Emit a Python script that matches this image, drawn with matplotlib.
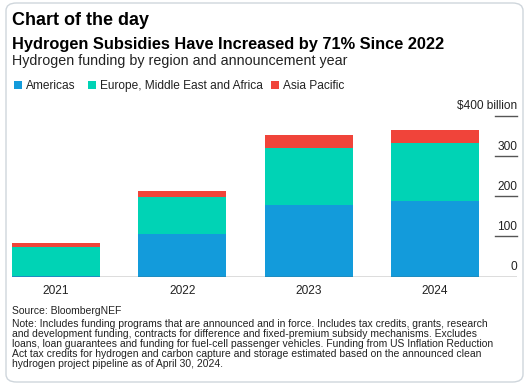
import matplotlib
matplotlib.use("Agg")
import matplotlib.pyplot as plt
from matplotlib.patches import FancyBboxPatch, Rectangle
import numpy as np

years = ["2021", "2022", "2023", "2024"]
americas = [1.5, 106, 179, 189]
emea = [73, 93, 141, 143]
apac = [9, 14, 33, 33]
series_names = ["Americas", "Europe, Middle East and Africa", "Asia Pacific"]
colors = ["#139BDB", "#00D3B5", "#F0443A"]
yticks = [0, 100, 200, 300, 400]
ytick_labels = ["0", "100", "200", "300", "$400 billion"]

W, H = 526, 385
plt.rcParams['font.family'] = ['Liberation Sans', 'DejaVu Sans']
fig = plt.figure(figsize=(W / 100, H / 100), dpi=100)

def fx(x):
    return x / W

def fy(y):
    return 1 - y / H

# card border
card = FancyBboxPatch((fx(6), fy(382)), fx(523) - fx(6), fy(3) - fy(382),
                      boxstyle="round,pad=0,rounding_size=0.02",
                      transform=fig.transFigure, facecolor="none",
                      edgecolor="#CFD6DC", linewidth=1.0, zorder=-1)
fig.patches.append(card)

fig.text(fx(12), fy(25), "Chart of the day", fontsize=13, fontweight="bold",
         va="baseline", ha="left")
fig.text(fx(12), fy(49.5), "Hydrogen Subsidies Have Increased by 71% Since 2022",
         fontsize=11.8, fontweight="bold", va="baseline", ha="left")
fig.text(fx(12), fy(64.5), "Hydrogen funding by region and announcement year",
         fontsize=10.3, va="baseline", ha="left", color="#222222")

# legend
leg_x = [14, 88, 271]
for name, col, lx in zip(series_names, colors, leg_x):
    fig.patches.append(Rectangle((fx(lx), fy(88.8)), fx(8), fy(81) - fy(88.8),
                                 transform=fig.transFigure, facecolor=col,
                                 edgecolor="none"))
    fig.text(fx(lx + 12), fy(89), name, fontsize=8.6, va="baseline", ha="left",
             color="#222222")

ax = fig.add_axes([fx(12), fy(276.7), fx(517) - fx(12), fy(115.7) - fy(276.7)])
x = np.arange(len(years))
bw = 0.697
a = np.array(americas)
e = np.array(emea)
p = np.array(apac)
ax.bar(x, a, bw, color=colors[0], zorder=2)
ax.bar(x, e, bw, bottom=a, color=colors[1], zorder=2)
ax.bar(x, p, bw, bottom=a + e, color=colors[2], zorder=2)
ax.set_xlim(-0.348, 3.65)
ax.set_ylim(0, 400)
ax.patch.set_visible(False)
for s in ax.spines.values():
    s.set_visible(False)
ax.axhline(0, color="#555555", lw=1.0, zorder=3)
ax.set_xticks(x)
ax.set_xticklabels(years, fontsize=8.6, color="#222222")
ax.tick_params(axis="x", length=0, pad=6)
ax.set_yticks([])
tr = matplotlib.transforms.blended_transform_factory(ax.transAxes, ax.transData)
for v, lab in zip(yticks, ytick_labels):
    if v > 0:
        ax.plot([1 - 22 / 505, 1], [v, v], transform=tr, color="#555555",
                lw=1.0, clip_on=False)
    ax.text(1, v + 8, lab, transform=tr, fontsize=8.6, ha="right", va="bottom",
            color="#222222")

fig.text(fx(12), fy(314), "Source: BloombergNEF", fontsize=7.5, va="baseline",
         ha="left", color="#222222")
note = [
    "Note: Includes funding programs that are announced and in force. Includes tax credits, grants, research",
    "and development funding, contracts for difference and fixed-premium subsidy mechanisms. Excludes",
    "loans, loan guarantees and funding for fuel-cell passenger vehicles. Funding from US Inflation Reduction",
    "Act tax credits for hydrogen and carbon capture and storage estimated based on the announced clean",
    "hydrogen project pipeline as of April 30, 2024.",
]
for i, line in enumerate(note):
    fig.text(fx(12), fy(327.3 + 9.9 * i), line, fontsize=7.5, va="baseline",
             ha="left", color="#222222")

fig.savefig("out.png", dpi=100)
